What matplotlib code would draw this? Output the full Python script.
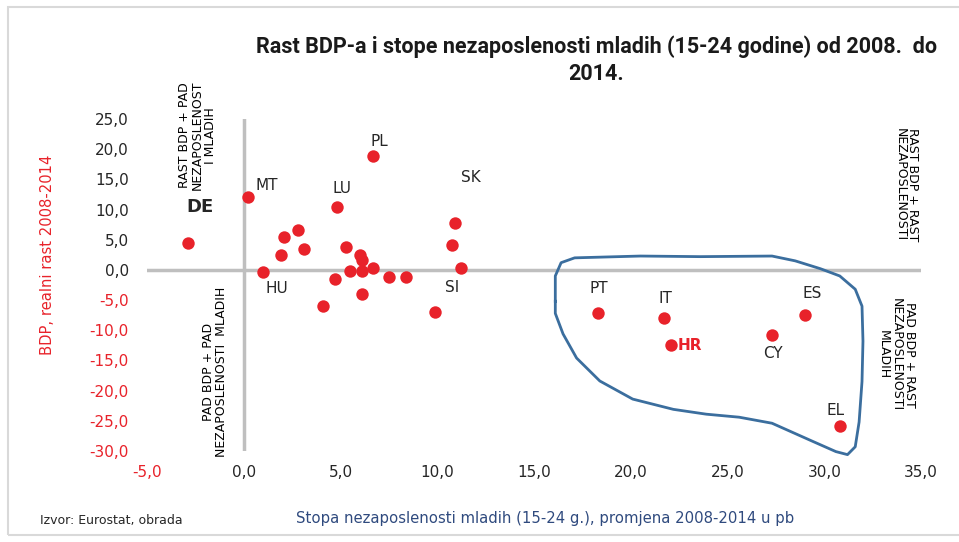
import numpy as np
import matplotlib.pyplot as plt
from matplotlib.patches import Rectangle

# podaci procitani s grafikona
drzave = ['DE', 'MT', 'HU', 'PL', 'LU', 'SK', 'SI', 'PT', 'IT', 'HR', 'CY', 'ES', 'EL']
nezap = [-2.9, 0.2, 1.0, 6.7, 4.8, 10.9, 9.9, 18.3, 21.7, 22.1, 27.3, 29.0, 30.8]
bdp = [4.5, 12.1, -0.4, 18.8, 10.5, 7.7, -6.9, -7.2, -8.0, -12.5, -10.8, -7.4, -25.9]

# ostale tocke bez oznake
ostale_x = [2.1, 2.8, 1.9, 3.1, 5.3, 6.0, 6.1, 6.7, 5.5, 6.1, 4.7, 7.5, 8.4, 6.1, 4.1, 10.75, 11.25]
ostale_y = [5.4, 6.6, 2.4, 3.5, 3.8, 2.5, 1.6, 0.4, -0.1, -0.1, -1.5, -1.2, -1.2, -4.0, -6.0, 4.1, 0.4]

# rucno nacrtana kontura oko juznih drzava
kontura_x = [16.1, 16.1, 16.4, 17.1, 20.5, 23.6, 27.3, 28.5, 29.8, 30.8, 31.6, 31.95, 32.0, 31.95,
             31.8, 31.6, 31.2, 30.6, 29.4, 27.3, 25.6, 23.9, 22.2, 20.1, 18.4, 17.2, 16.5, 16.1, 16.1]
kontura_y = [-5.2, -1.0, 1.2, 2.0, 2.3, 2.2, 2.3, 1.5, 0.2, -1.0, -3.2, -6.0, -11.8, -18.5,
             -25.2, -29.3, -30.6, -30.1, -28.4, -25.4, -24.4, -23.9, -23.1, -21.4, -18.4, -14.6, -10.6, -7.2, -5.2]

x_ticks = [-5, 0, 5, 10, 15, 20, 25, 30, 35]
y_ticks = [25, 20, 15, 10, 5, 0, -5, -10, -15, -20, -25, -30]

# pomaci oznaka (u tockama)
pomaci = {'DE': (9, 26), 'MT': (14, 8), 'HU': (10, -11.5), 'PL': (4, 11), 'LU': (4, 13),
          'SK': (12, 33), 'SI': (12, 17), 'PT': (1, 18), 'IT': (1, 14), 'HR': (13, 0),
          'CY': (1, -13), 'ES': (5, 15), 'EL': (-3, 11.5)}

crvena = '#E8222A'
siva = '#BFBFBF'
tamna = '#262626'

fig = plt.figure(figsize=(9.59, 5.42), dpi=100)
ax = fig.add_axes([0.1533, 0.1679, 0.8071, 0.6125])

ax.axhline(0, color=siva, lw=2.5, zorder=1)
ax.axvline(0, color=siva, lw=2.5, zorder=1)

ax.scatter(ostale_x, ostale_y, s=80, color=crvena, zorder=3, linewidths=0)
ax.scatter(nezap, bdp, s=80, color=crvena, zorder=3, linewidths=0)

for d, x, y in zip(drzave, nezap, bdp):
    dx, dy = pomaci[d]
    if d == 'DE':
        ax.annotate(d, (x, y), xytext=(dx, dy), textcoords='offset points', ha='center',
                    va='center', fontsize=13, fontweight='bold', color=tamna)
    elif d == 'HR':
        ax.annotate(d, (x, y), xytext=(dx, dy), textcoords='offset points', ha='center',
                    va='center', fontsize=11, fontweight='bold', color=crvena)
    else:
        ax.annotate(d, (x, y), xytext=(dx, dy), textcoords='offset points', ha='center',
                    va='center', fontsize=11, color=tamna)

ax.plot(kontura_x, kontura_y, color='#3B6E9E', lw=2, clip_on=False, zorder=2)

ax.set_xlim(-5, 35)
ax.set_ylim(-30, 25)
ax.set_xticks(x_ticks)
ax.set_yticks(y_ticks)
ax.set_xticklabels([f'{v:.1f}'.replace('.', ',') for v in x_ticks], fontsize=11)
ax.set_yticklabels([f'{v:.1f}'.replace('.', ',') for v in y_ticks], fontsize=11)
# negativne vrijednosti crvenom bojom
for lbl, v in zip(ax.get_xticklabels(), x_ticks):
    lbl.set_color(crvena if v < 0 else tamna)
for lbl, v in zip(ax.get_yticklabels(), y_ticks):
    lbl.set_color(crvena if v < 0 else tamna)
ax.tick_params(axis='x', length=0, pad=10)
ax.tick_params(axis='y', length=0, pad=13)
for s in ax.spines.values():
    s.set_visible(False)

ax.set_ylabel('BDP, realni rast 2008-2014', color=crvena, fontsize=10.6)
ax.yaxis.set_label_coords(-0.119, 0.59)
fig.text(0.568, 0.043, 'Stopa nezaposlenosti mladih (15-24 g.), promjena 2008-2014 u pb',
         color='#2F4A7E', fontsize=10.7, ha='center', va='center')
fig.text(0.042, 0.039, 'Izvor: Eurostat, obrada', fontsize=9, ha='left', va='center',
         color=tamna)

fig.text(0.622, 0.889, 'Rast BDP-a i stope nezaposlenosti mladih (15-24 godine) od 2008.  do\n2014.',
         fontsize=15.5, fontweight='bold', ha='center', va='center', color='#1a1a1a',
         linespacing=1.3, family=['Roboto', 'DejaVu Sans'])

# oznake kvadranata
fig.text(0.206, 0.75, 'RAST BDP + PAD\nNEZAPOSLENOST\nI MLADIH', rotation=90, fontsize=9,
         ha='center', va='center', linespacing=1.0)
fig.text(0.224, 0.313, 'PAD BDP + PAD\nNEZAPOSLENOSTI  MLADIH', rotation=90, fontsize=9,
         ha='center', va='center', linespacing=1.0)
fig.text(0.945, 0.66, 'RAST BDP + RAST\nNEZAPOSLENOSTI', rotation=270, fontsize=9,
         ha='center', va='center', linespacing=1.0)
fig.text(0.935, 0.345, 'PAD BDP + RAST\nNEZAPOSLENOSTI\nMLADIH', rotation=270, fontsize=9,
         ha='center', va='center', linespacing=1.0)

# okvir grafikona
fig.patches.append(Rectangle((0.008, 0.012), 1.2, 0.975, transform=fig.transFigure,
                             fill=False, edgecolor='#D9D9D9', lw=1.5))

fig.savefig('out.png', dpi=100)
